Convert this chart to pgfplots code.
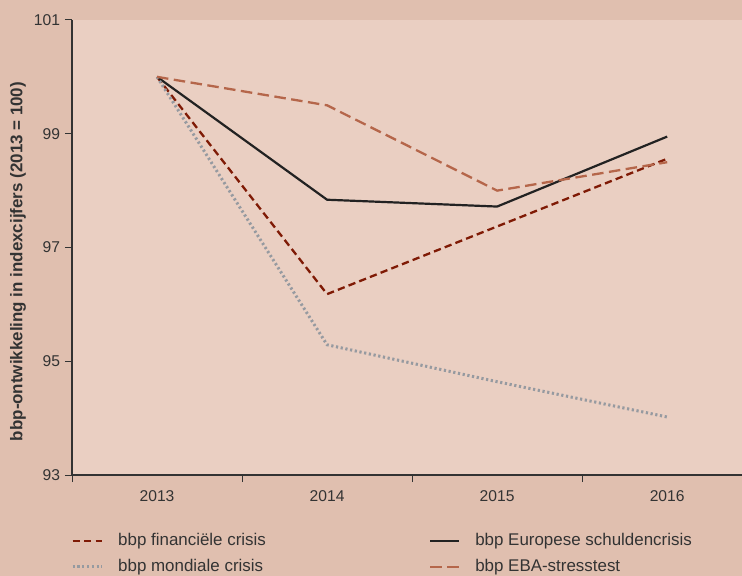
\documentclass[border=0pt]{standalone}
\usepackage{pgfplots}
\pgfplotsset{compat=1.18}
\usepackage{fontspec}
\setmainfont{Liberation Sans}
\definecolor{bgout}{HTML}{E0BFAF}
\definecolor{bgin}{HTML}{EACFC2}
\definecolor{txt}{HTML}{333333}
\definecolor{finc}{HTML}{7F1A05}
\definecolor{ebac}{HTML}{B5664A}
\definecolor{mondc}{HTML}{969AA0}
\definecolor{euroc}{HTML}{222222}
\begin{document}
\begin{tikzpicture}
\fill[bgout] (0,0) rectangle (742bp,576bp);
\begin{axis}[
  at={(72bp,101bp)}, anchor=south west,
  scale only axis, width=670bp, height=455bp,
  xmin=-0.5, xmax=3.44, ymin=93, ymax=101,
  axis background/.style={fill=bgin},
  axis x line=bottom, axis y line=left,
  axis line style={-, draw=txt, line width=1.1bp},
  ytick={93,95,97,99,101},
  xtick={0,1,2,3}, xticklabels={2013,2014,2015,2016},
  minor xtick={-0.5,0.5,1.5,2.5},
  major x tick style={draw=none},
  tick style={draw=txt, line width=1bp},
  tick align=outside, major tick length=7bp, minor tick length=7bp,
  ticklabel style={font=\fontsize{15.7}{18}\selectfont, text=txt},
  xticklabel style={yshift=-5bp},
  yticklabel style={xshift=-1.5bp},
  /pgf/number format/assume math mode=true,
  ylabel={bbp-ontwikkeling in indexcijfers (2013 = 100)},
  every axis y label/.style={at={(axis description cs:0,0.5)}, xshift=-54bp, yshift=-14bp, rotate=90, anchor=center, font=\bfseries\fontsize{17}{19}\selectfont, text=txt},
  legend columns=2,
  legend cell align=left,
  legend style={at={(axis description cs:0,0)}, anchor=north west, xshift=-4bp, yshift=-54bp, draw=none, fill=none,
    font=\fontsize{17}{20}\selectfont, text=txt,
    nodes={text height=12bp, text depth=3.5bp},
    row sep=6.5bp,
    /tikz/every odd column/.append style={column sep=13bp},
    /tikz/every even column/.append style={column sep=161bp}},
  legend image code/.code={\draw[#1] (0bp,0bp) -- (29bp,0bp);},
  clip=false,
]
\addplot[finc, line width=2.3bp, dash pattern=on 7.3bp off 4.2bp] coordinates {(0,100) (1,96.18) (2,97.37) (3,98.56)};
\addlegendentry{bbp financiële crisis}
\addplot[euroc, line width=2.2bp] coordinates {(0,100) (1,97.84) (2,97.72) (3,98.95)};
\addlegendentry{bbp Europese schuldencrisis}
\addplot[mondc, line width=3bp, dash pattern=on 2.2bp off 2.6bp] coordinates {(0,100) (1,95.29) (2,94.64) (3,94.02)};
\addlegendentry{bbp mondiale crisis}
\addplot[ebac, line width=2.3bp, dash pattern=on 11.5bp off 5.5bp] coordinates {(0,100) (1,99.5) (2,98.0) (3,98.5)};
\addlegendentry{bbp EBA-stresstest}
\end{axis}
\pgfresetboundingbox
\path (0,0) rectangle (742bp,576bp);
\end{tikzpicture}
\end{document}
